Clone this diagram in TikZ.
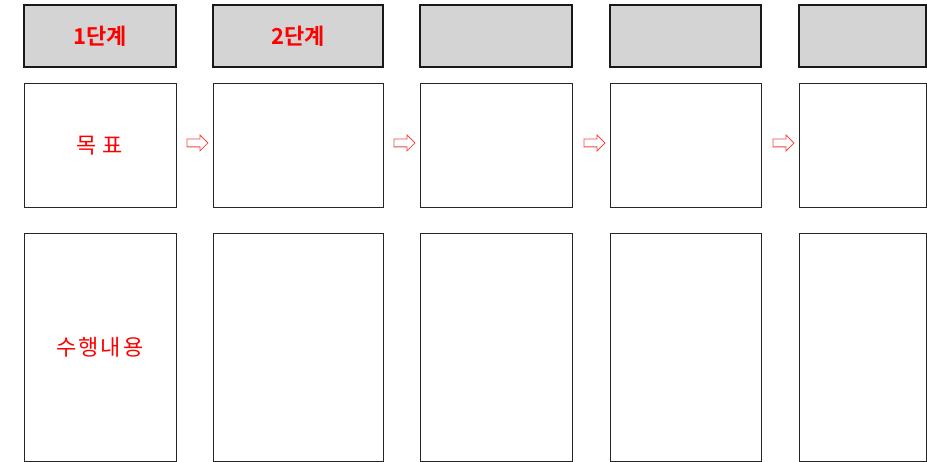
\documentclass[tikz,border=0pt]{standalone}
\usepackage{fontspec}
\newfontfamily\kr{Noto Sans CJK KR}
\newfontfamily\krbold{Noto Sans CJK KR Bold}
\usetikzlibrary{shapes.arrows}
\definecolor{hdrgray}{HTML}{D4D4D4}
\definecolor{arrowred}{HTML}{F04848}
\tikzset{x=1pt,y=-1pt,every node/.style={font=\kr\fontsize{22}{26}\selectfont,text=red},
hdr/.style={draw=black!90,line width=1.6pt,fill=hdrgray,minimum height=62pt,font=\krbold\fontsize{22}{26}\selectfont},
goalbox/.style={draw=black!85,line width=1pt,minimum height=124pt},
workbox/.style={draw=black!85,line width=1pt,minimum height=227pt},
nextarrow/.style={single arrow,draw=arrowred,line width=.8pt,fill=white,inner sep=3.5pt,minimum height=21pt,single arrow head extend=4pt}}

\begin{document}
\begin{tikzpicture}
\useasboundingbox (0,0) rectangle (927,462);
\foreach \i/\x/\w/\t in {1/100/152/1단계,2/298/170/2단계,3/496/152/,4/685.5/151/,5/862.5/127/}{
\node[hdr,minimum width=\w pt] (h\i) at (\x,36) {\t};
\node[goalbox,minimum width=\w pt] (g\i) at (\x,146) {};
\node[workbox,minimum width=\w pt] (a\i) at (\x,347.5) {};}
\node (goal) at (g1) {목\hspace{6pt}표};\node (work) at (a1) {수\hspace{2pt}행\hspace{2pt}내\hspace{2pt}용};
\foreach \i/\j in {1/2,2/3,3/4,4/5}{\node[nextarrow,anchor=east] (r\i) at ([xshift=-4pt,yshift=3pt]g\j.west) {};}
\end{tikzpicture}
\end{document}
